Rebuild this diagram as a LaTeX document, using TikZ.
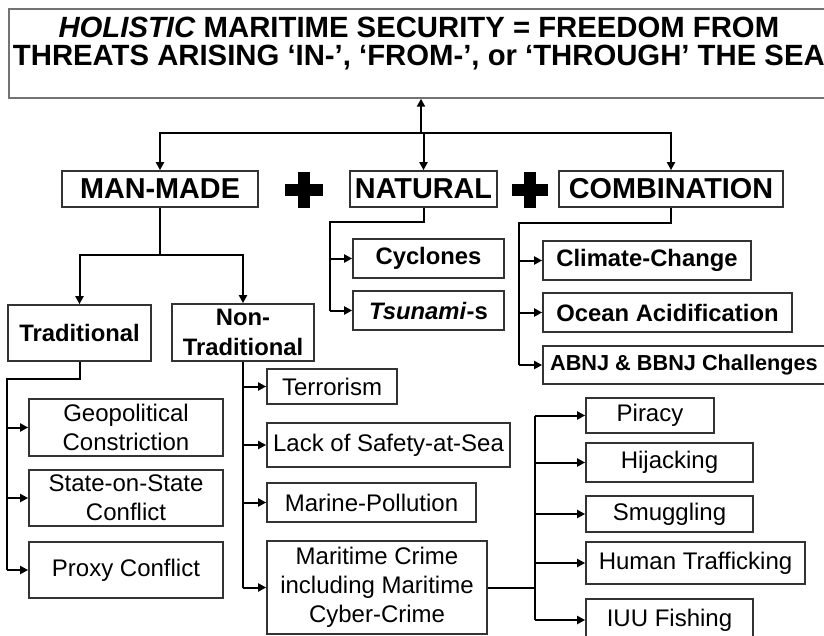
\documentclass[tikz,border=0pt]{standalone}
\usepackage{fontspec}
\setmainfont{Liberation Sans}
\usetikzlibrary{arrows.meta}
\begin{document}
\begin{tikzpicture}[x=1pt,y=-1pt,
  box/.style={draw=black!80, line width=1.7pt, inner sep=0pt, align=center},
  lone/.style={box, font=\fontsize{28.8}{30}\selectfont\bfseries, minimum height=36pt},
  ltwo/.style={box, font=\fontsize{23.8}{30}\selectfont\bfseries},
  lreg/.style={box, font=\fontsize{24}{29}\selectfont},
  conn/.style={line width=2pt, black},
  arr/.style={conn, -{Triangle[length=8pt,width=8pt]}}]
\useasboundingbox (0,0) rectangle (824,635);
\fill[white] (0,0) rectangle (824,635);

% top box
\node[box, draw=black!55, anchor=north west, minimum width=820pt,
      font=\fontsize{29.3}{28}\selectfont\bfseries] (top) at (8,8)
  {\rule{0pt}{29pt}\textit{HOLISTIC} MARITIME SECURITY = FREEDOM FROM\\
   THREATS ARISING ‘IN-’, ‘FROM-’, or ‘THROUGH’ THE SEA\rule[-32pt]{0pt}{32pt}};

% level one
\node[lone, minimum width=196pt] (manmade) at (160,189) {MAN-MADE};
\node[lone, minimum width=147pt] (natural) at (423.5,189) {NATURAL};
\node[lone, minimum width=224pt] (comb) at (671,189) {COMBINATION};

% plus signs
\fill (285,184) rectangle (323,196);
\fill (298,172) rectangle (310,208);
\fill (512,184) rectangle (548,196);
\fill (524,172) rectangle (536,208);

% connectors to top
\coordinate (hub) at (421,133);
\draw[arr] (hub) -- (hub |- top.south);
\draw[arr] (hub) -| (manmade.north);
\draw[arr] (hub) -| (comb.north);
\draw[arr] (hub -| natural.north) -- (natural.north);

% man-made branch
\node[ltwo, minimum width=143pt, minimum height=56pt] (trad) at (79.5,333) {Traditional};
\node[ltwo, minimum width=142pt, minimum height=57pt] (nontrad) at (243,332.5) {Non-\\Traditional};
\coordinate (mmb) at (160,255);
\draw[conn] (manmade.south) -- (mmb);
\draw[arr] (mmb) -| (trad.north);
\draw[arr] (mmb) -| (nontrad.north);

% natural branch
\node[ltwo, minimum width=151pt, minimum height=39pt] (cyc) at (428.5,258.5) {Cyclones};
\node[ltwo, minimum width=151pt, minimum height=39pt] (tsu) at (428.5,310.5) {\textit{Tsunami}-s};
\coordinate (nb) at (330,222);
\draw[conn] (natural.south) |- (nb) -- (nb |- tsu.west);
\draw[arr] (nb |- cyc.west) -- (cyc.west);
\draw[arr] (nb |- tsu.west) -- (tsu.west);

% combination branch
\node[ltwo, minimum width=208pt, minimum height=39pt] (clim) at (647,260.5) {Climate-Change};
\node[ltwo, minimum width=249pt, minimum height=39pt] (ocean) at (667.5,312.5) {Ocean Acidification};
\node[box, font=\fontsize{21.7}{26}\selectfont\bfseries, minimum width=282pt, minimum height=38pt] (abnj) at (684,365) {ABNJ \& BBNJ Challenges};
\coordinate (cb) at (519,223);
\draw[conn] (comb.south) |- (cb) -- (cb |- abnj.west);
\draw[arr] (cb |- clim.west) -- (clim.west);
\draw[arr] (cb |- ocean.west) -- (ocean.west);
\draw[arr] (cb |- abnj.west) -- (abnj.west);

% traditional branch
\node[lreg, minimum width=194pt, minimum height=57pt] (geo) at (126,427.5) {Geopolitical\\Constriction};
\node[lreg, minimum width=194pt, minimum height=56pt] (state) at (126,498) {State-on-State\\Conflict};
\node[lreg, minimum width=194pt, minimum height=56pt] (proxy) at (126,570) {Proxy Conflict};
\coordinate (tb) at (7,379);
\draw[conn] (trad.south) |- (tb) -- (tb |- proxy.west);
\draw[arr] (tb |- geo.west) -- (geo.west);
\draw[arr] (tb |- state.west) -- (state.west);
\draw[arr] (tb |- proxy.west) -- (proxy.west);

% non-traditional branch
\node[lreg, minimum width=130pt, minimum height=35pt] (terror) at (332,386.5) {Terrorism};
\node[lreg, minimum width=243pt, minimum height=44pt] (lack) at (388.5,445) {Lack of Safety-at-Sea};
\node[lreg, minimum width=209pt, minimum height=39pt] (marine) at (371.5,502.5) {Marine-Pollution};
\node[lreg, minimum width=220pt, minimum height=93pt] (crime) at (377,587.5) {Maritime Crime\\including Maritime\\Cyber-Crime};
\draw[conn] (nontrad.south) -- (nontrad.south |- crime.west);
\draw[arr] (nontrad.south |- terror.west) -- (terror.west);
\draw[arr] (nontrad.south |- lack.west) -- (lack.west);
\draw[arr] (nontrad.south |- marine.west) -- (marine.west);
\draw[arr] (nontrad.south |- crime.west) -- (crime.west);

% maritime crime branch
\node[lreg, minimum width=128pt, minimum height=35pt] (piracy) at (650,415.5) {Piracy};
\node[lreg, minimum width=167pt, minimum height=39pt] (hijack) at (669.5,462.5) {Hijacking};
\node[lreg, minimum width=167pt, minimum height=36pt] (smug) at (669.5,514) {Smuggling};
\node[lreg, minimum width=219pt, minimum height=42pt] (human) at (695.5,563) {Human Trafficking};
\node[lreg, minimum width=167pt, minimum height=42pt] (iuu) at (669.5,620) {IUU Fishing};
\coordinate (crb) at (535,587.5);
\draw[conn] (crime.east) -- (crb);
\draw[conn] (crb |- piracy.west) -- (crb |- iuu.west);
\draw[arr] (crb |- piracy.west) -- (piracy.west);
\draw[arr] (crb |- hijack.west) -- (hijack.west);
\draw[arr] (crb |- smug.west) -- (smug.west);
\draw[arr] (crb |- human.west) -- (human.west);
\draw[arr] (crb |- iuu.west) -- (iuu.west);
\end{tikzpicture}
\end{document}
